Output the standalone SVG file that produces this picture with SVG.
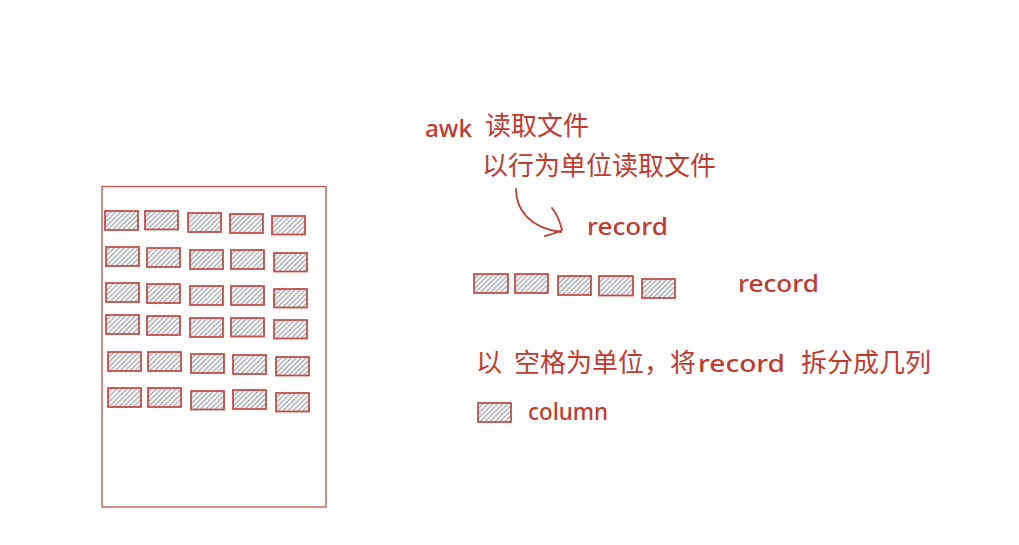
<svg xmlns="http://www.w3.org/2000/svg" width="1019" height="545" viewBox="0 0 1019 545">
<defs>
<pattern id="hach" patternUnits="userSpaceOnUse" width="3.5" height="3.5" patternTransform="rotate(45)">
<rect width="3.5" height="3.5" fill="#f4f5f6"/>
<line x1="0.6" y1="0" x2="0.6" y2="3.5" stroke="#9ea3a8" stroke-width="1.1"/>
</pattern>
</defs>
<style>
.cell{fill:url(#hach);stroke:#c0504d;stroke-width:1.8}
.frame{fill:none;stroke:#c0504d;stroke-width:1.3}
.t{fill:#bf3b30;font-family:"Noto Sans","Noto Sans CJK SC",sans-serif}
.cjk{font-family:"Noto Sans CJK SC","Noto Sans",sans-serif;font-size:26px}
.lat{font-family:"Noto Sans","Liberation Sans",sans-serif;font-size:24px;font-weight:500}
.conn{fill:none;stroke:#bf3b30;stroke-width:1.8;stroke-linecap:round;stroke-linejoin:round}
</style>
<rect width="1019" height="545" fill="#ffffff"/>

<g id="file">
<rect class="frame" x="102" y="186.5" width="224" height="320.5"/>
<g id="rows">
<rect class="cell" x="105" y="211" width="33" height="19"/>
<rect class="cell" x="145" y="211" width="33" height="18.5"/>
<rect class="cell" x="188" y="213" width="33" height="19"/>
<rect class="cell" x="230" y="214" width="33" height="19"/>
<rect class="cell" x="272" y="216" width="33" height="18.5"/>

<rect class="cell" x="106" y="247" width="33" height="19"/>
<rect class="cell" x="147" y="248" width="33" height="19"/>
<rect class="cell" x="190" y="250" width="33" height="19"/>
<rect class="cell" x="231" y="250" width="33" height="19"/>
<rect class="cell" x="274" y="253" width="33" height="18.5"/>

<rect class="cell" x="106" y="283" width="33" height="19"/>
<rect class="cell" x="147" y="284" width="33" height="19"/>
<rect class="cell" x="190" y="286" width="33" height="19"/>
<rect class="cell" x="231" y="286" width="33" height="19"/>
<rect class="cell" x="274" y="289" width="33" height="18.5"/>

<rect class="cell" x="106" y="315" width="33" height="19"/>
<rect class="cell" x="147" y="316" width="33" height="19"/>
<rect class="cell" x="190" y="318" width="33" height="19"/>
<rect class="cell" x="231" y="318" width="33" height="18.5"/>
<rect class="cell" x="274" y="320" width="33" height="18.5"/>

<rect class="cell" x="108" y="352" width="33" height="19"/>
<rect class="cell" x="148" y="352" width="33" height="19"/>
<rect class="cell" x="191" y="354" width="33" height="19"/>
<rect class="cell" x="233" y="355" width="33" height="19"/>
<rect class="cell" x="276" y="357" width="33" height="18.5"/>

<rect class="cell" x="108" y="388" width="33" height="19"/>
<rect class="cell" x="148" y="388" width="33" height="19"/>
<rect class="cell" x="191" y="391" width="33" height="18.5"/>
<rect class="cell" x="233" y="390" width="33" height="19"/>
<rect class="cell" x="276" y="393" width="33" height="18.5"/>
</g>
</g>

<g id="title">
<text class="t lat" x="425" y="137" textLength="47" lengthAdjust="spacingAndGlyphs">awk</text>
<text class="t cjk" x="485" y="135">读取文件</text>
</g>

<g id="subtitle">
<text class="t cjk" x="482" y="175">以行为单位读取文件</text>
</g>

<g id="connectors">
<path class="conn" d="M516,189 C516,210 530,228 561,232"/>
<path class="conn" d="M552,208 C557,214 560,222 562,230 C556,233 550,235 545,236"/>
</g>

<g id="record-label">
<text class="t lat" x="587" y="235" textLength="81" lengthAdjust="spacingAndGlyphs">record</text>
</g>

<g id="record-row">
<rect class="cell" x="474" y="274" width="34" height="19"/>
<rect class="cell" x="515" y="274" width="33" height="19"/>
<rect class="cell" x="558" y="276" width="33" height="19"/>
<rect class="cell" x="599" y="276" width="34" height="19.5"/>
<rect class="cell" x="642" y="279" width="33" height="19"/>
</g>

<g id="record-label-2">
<text class="t lat" x="738" y="292" textLength="81" lengthAdjust="spacingAndGlyphs">record</text>
</g>

<g id="split-text">
<text class="t cjk" y="372"><tspan x="476">以</tspan><tspan x="514">空格为单位，将</tspan><tspan class="lat" x="698" textLength="87" lengthAdjust="spacingAndGlyphs">record</tspan><tspan x="801">拆分成几列</tspan></text>
</g>

<g id="column-legend">
<rect class="cell" x="478" y="403" width="33" height="19"/>
<text class="t lat" x="528" y="420" textLength="80" lengthAdjust="spacingAndGlyphs">column</text>
</g>
</svg>
